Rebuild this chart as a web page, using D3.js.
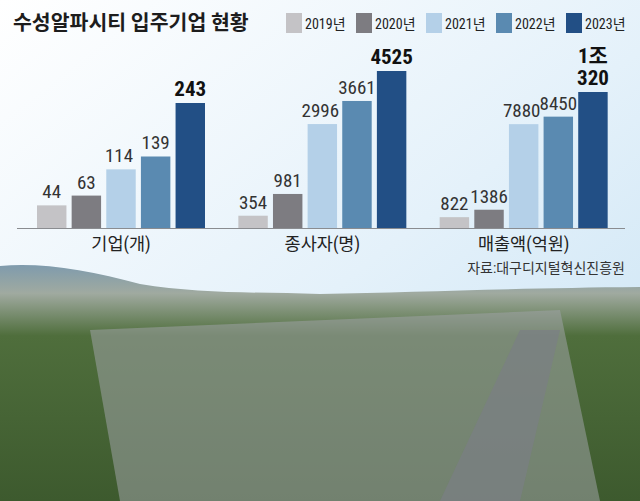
<!DOCTYPE html>
<html><head><meta charset="utf-8">
<script src="https://cdn.jsdelivr.net/npm/d3@7"></script>
<style>body{margin:0}svg{display:block}</style>
</head><body><svg id="c" width="640" height="501"></svg>
<script>
const years = ['2019년', '2020년', '2021년', '2022년', '2023년'];
const colors = ['#c4c3c6', '#7d7c81', '#b4d0e8', '#5a8ab1', '#224f85'];
const groups = ['기업(개)', '종사자(명)', '매출액(억원)'];
const firms = [44, 63, 114, 139, 243];
const workers = [354, 981, 2996, 3661, 4525];
const sales = [822, 1386, 7880, 8450, 10320];
const valueLabels = [
  ['44', '63', '114', '139', '243'],
  ['354', '981', '2996', '3661', '4525'],
  ['822', '1386', '7880', '8450', '1조\n320']
];

const svg = d3.select('#c');
const W = 640, H = 501;
const font = '"Liberation Sans Narrow","Roboto Condensed","Noto Sans CJK KR",sans-serif';

// background sky + photo stand-in
const defs = svg.append('defs');
const sky = defs.append('linearGradient').attr('id', 'sky').attr('x1', 0).attr('y1', 0).attr('x2', 1).attr('y2', 1);
sky.append('stop').attr('offset', 0).attr('stop-color', '#ffffff');
sky.append('stop').attr('offset', 0.55).attr('stop-color', '#e4f1fa');
sky.append('stop').attr('offset', 1).attr('stop-color', '#c9e3f4');
svg.append('rect').attr('width', W).attr('height', H).attr('fill', 'url(#sky)');

const land = defs.append('linearGradient').attr('id', 'land').attr('x1', 0).attr('y1', 0).attr('x2', 0).attr('y2', 1);
land.append('stop').attr('offset', 0).attr('stop-color', '#7f9bad');
land.append('stop').attr('offset', 0.12).attr('stop-color', '#a0aaa0');
land.append('stop').attr('offset', 0.3).attr('stop-color', '#4f6e3c');
land.append('stop').attr('offset', 1).attr('stop-color', '#3d5a2e');
svg.append('path')
  .attr('d', 'M0,266 C40,262 90,270 140,284 C200,294 260,292 320,294 C420,292 520,288 640,287 L640,501 L0,501 Z')
  .attr('fill', 'url(#land)');
// city block
svg.append('path')
  .attr('d', 'M90,330 L560,310 L600,501 L120,501 Z')
  .attr('fill', '#9ea3a6').attr('opacity', 0.55);
svg.append('path')
  .attr('d', 'M440,501 L520,330 L560,330 L520,501 Z')
  .attr('fill', '#7a7f84').attr('opacity', 0.7);

// title
svg.append('text').attr('x', 13).attr('y', 30)
  .attr('font-family', '"Noto Sans CJK KR",sans-serif').attr('font-weight', 700)
  .attr('font-size', 20.5).attr('fill', '#1d1d1d').text('수성알파시티 입주기업 현황');

// legend
const lx = d3.scaleBand().domain(years).range([286, 636]);
const leg = svg.append('g').selectAll('g').data(years).join('g')
  .attr('transform', d => `translate(${lx(d)},13)`);
leg.append('rect').attr('width', 16).attr('height', 20).attr('fill', (d, i) => colors[i]);
leg.append('text').attr('x', 19).attr('y', 16).attr('font-family', font)
  .attr('font-size', 14).attr('fill', '#222').text(d => d);

// bars
const base = 228;
const gx = d3.scaleBand().domain(groups).range([20, 624]).paddingInner(0.0);
const datasets = [firms, workers, sales];
const heights = [125, 157, 136];
groups.forEach((g, gi) => {
  const data = datasets[gi];
  const y = d3.scaleLinear().domain([0, d3.max(data)]).range([base, base - heights[gi]]);
  const bx = d3.scaleBand().domain(years).range([gx(g) + 17, gx(g) + 185]).paddingInner(0.15);
  const gg = svg.append('g');
  gg.selectAll('rect').data(data).join('rect')
    .attr('x', (d, i) => bx(years[i])).attr('width', bx.bandwidth())
    .attr('y', d => y(d)).attr('height', d => base - y(d))
    .attr('fill', (d, i) => colors[i]);
  gg.selectAll('text.v').data(data).join('text').attr('class', 'v')
    .attr('x', (d, i) => bx(years[i]) + bx.bandwidth() / 2 - (i === 2 ? 2 : 0))
    .attr('text-anchor', 'middle').attr('font-family', font)
    .attr('font-weight', (d, i) => i === 4 ? 700 : 400)
    .attr('font-size', (d, i) => i === 4 ? 21 : 19)
    .attr('fill', (d, i) => i === 4 ? '#111' : '#333')
    .each(function(d, i) {
      const lines = valueLabels[gi][i].split('\n');
      const t = d3.select(this);
      lines.forEach((l, k) => {
        t.append('tspan').attr('x', t.attr('x'))
          .attr('y', y(d) - 7 - (lines.length - 1 - k) * 22).text(l);
      });
    });
  svg.append('text').attr('x', gx(g) + 101).attr('y', 250).attr('text-anchor', 'middle')
    .attr('font-family', font).attr('font-size', 17.5).attr('fill', '#222').text(g);
});
svg.append('line').attr('x1', 17).attr('x2', 625).attr('y1', base + 0.5).attr('y2', base + 0.5)
  .attr('stroke', '#8a8c90').attr('stroke-width', 1.2);

svg.append('text').attr('x', 625).attr('y', 273).attr('text-anchor', 'end')
  .attr('font-family', font).attr('font-size', 14).attr('fill', '#333').text('자료:대구디지털혁신진흥원');
</script></body></html>
